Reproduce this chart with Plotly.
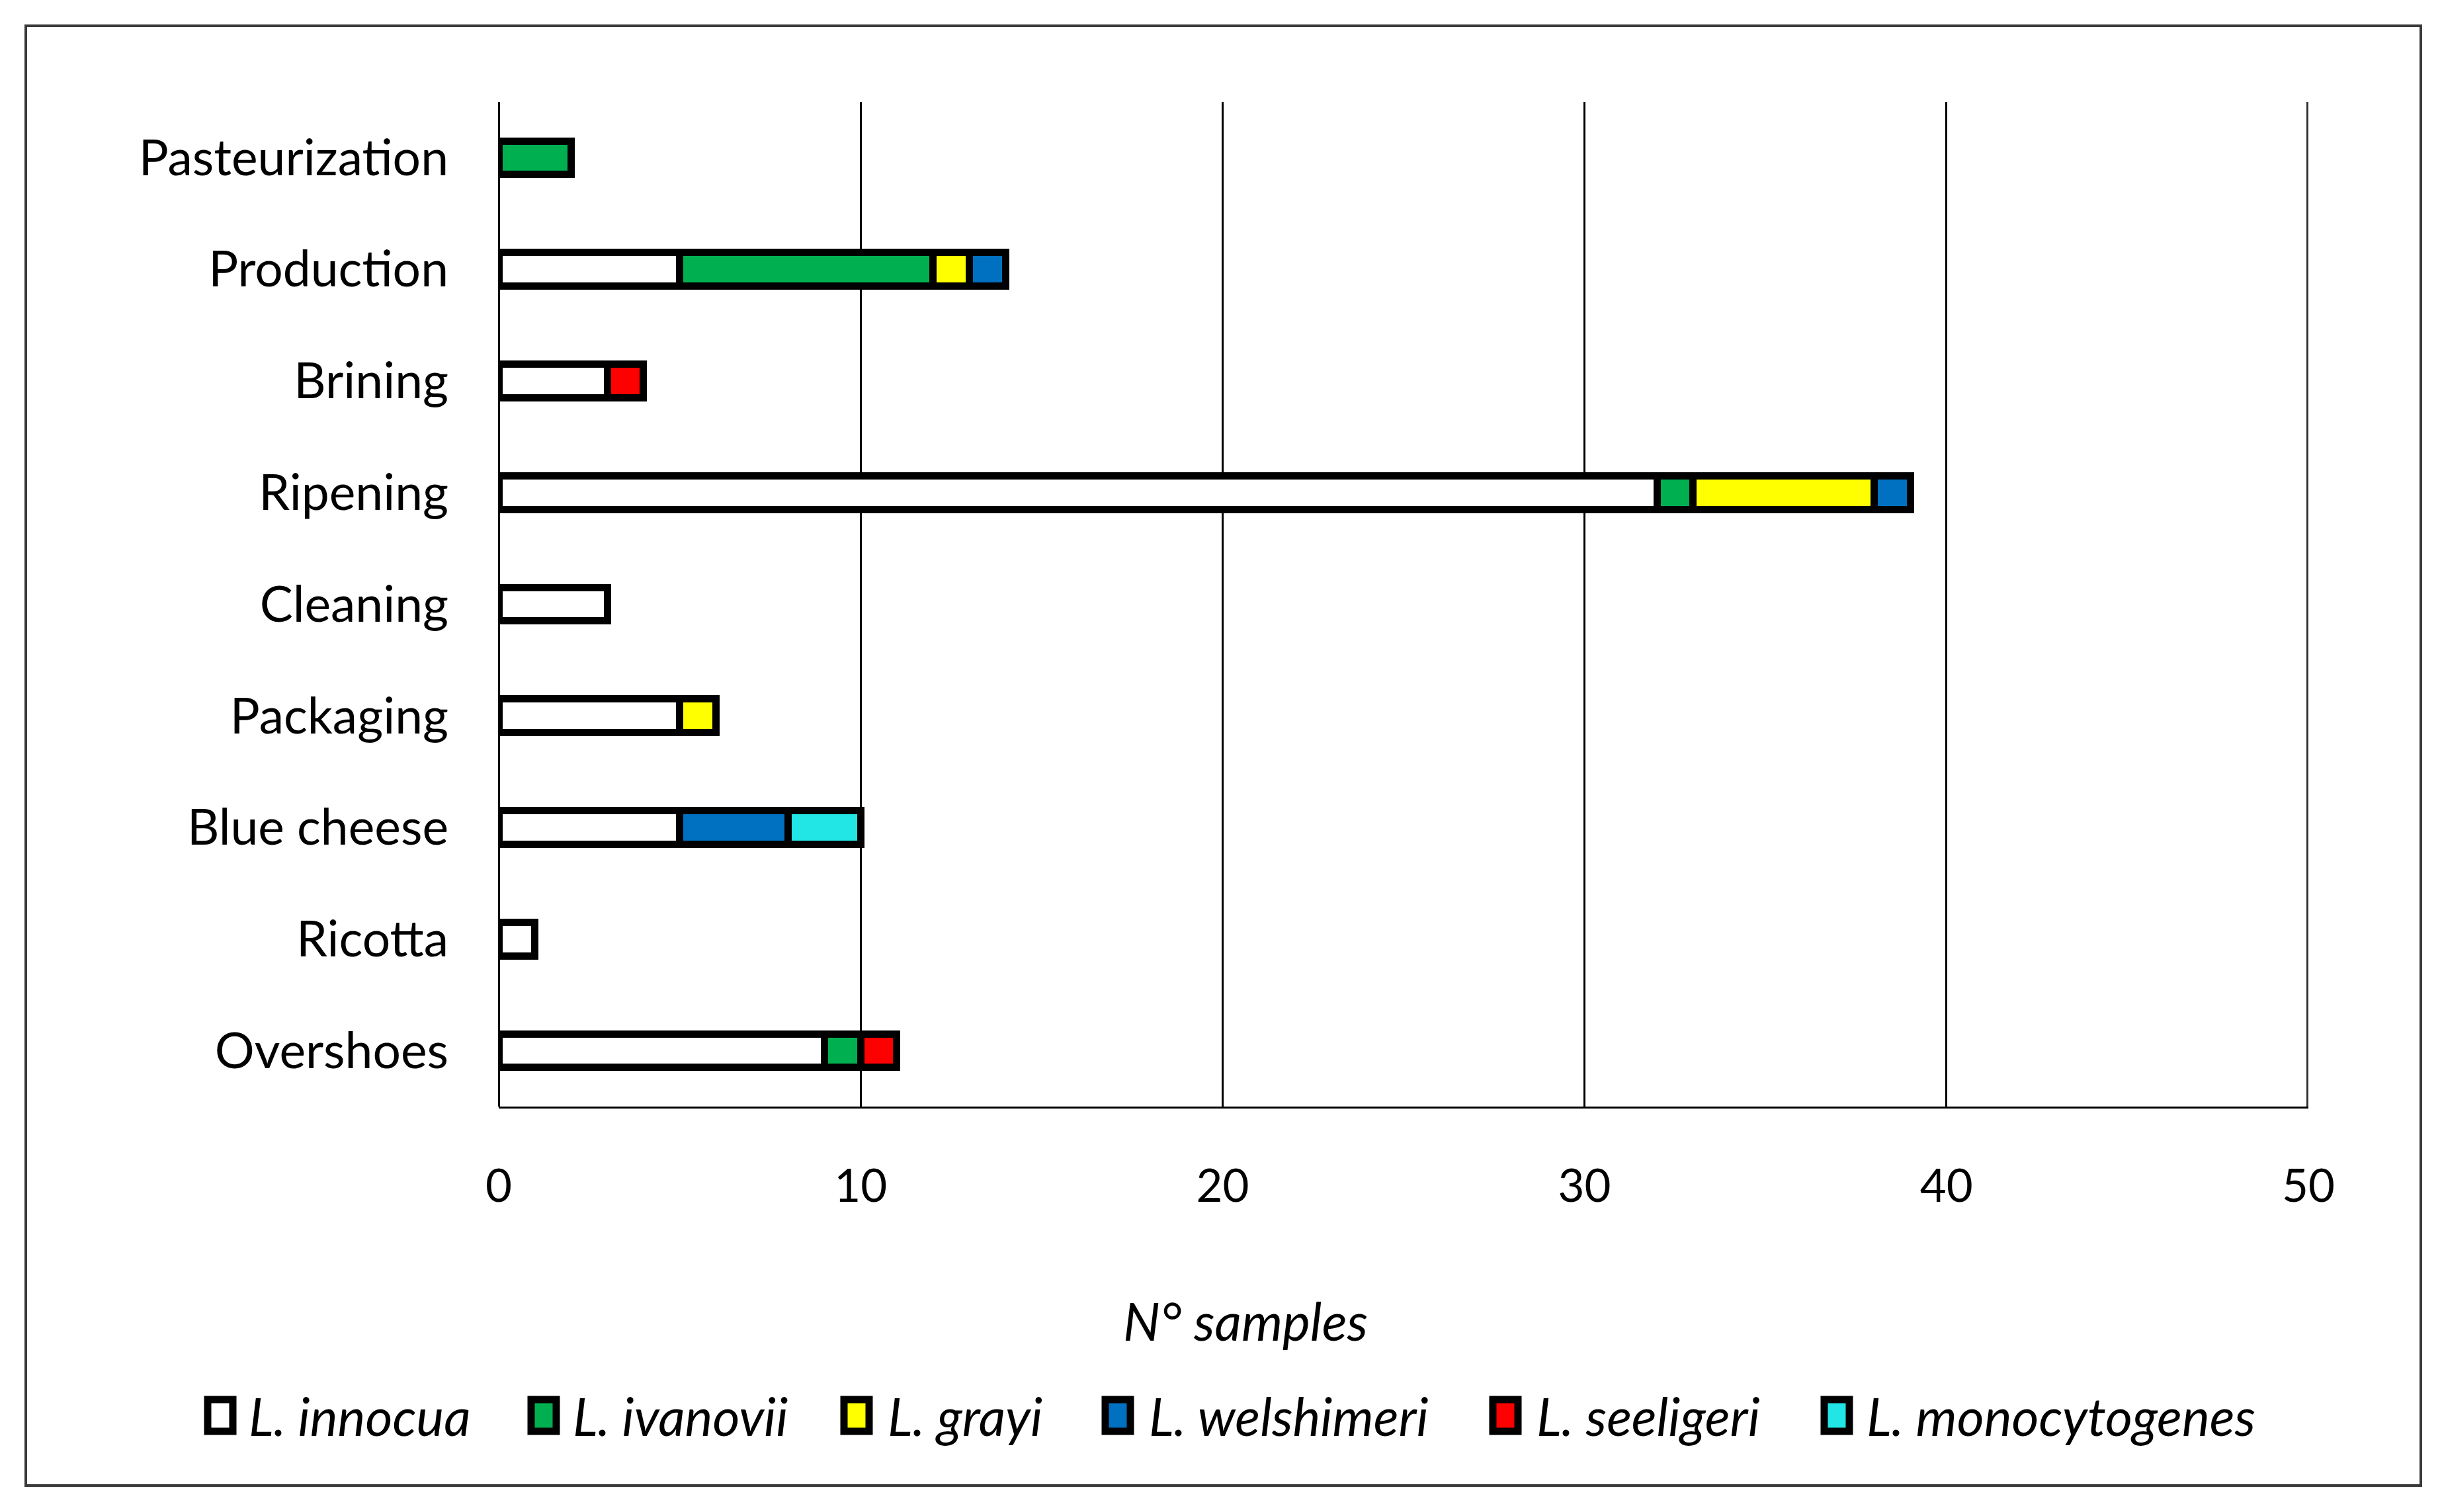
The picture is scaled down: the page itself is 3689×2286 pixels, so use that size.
import plotly.graph_objects as go

CATEGORIES = ["Pasteurization", "Production", "Brining", "Ripening", "Cleaning",
              "Packaging", "Blue cheese", "Ricotta", "Overshoes"]
SERIES = ["L. innocua", "L. ivanovii", "L. grayi", "L. welshimeri", "L. seeligeri", "L. monocytogenes"]
COLORS = ["#FFFFFF", "#00B050", "#FFFF00", "#0070C0", "#FF0000", "#22E6E6"]
INNOCUA = [0, 5, 3, 32, 3, 5, 5, 1, 9]
IVANOVII = [2, 7, 0, 1, 0, 0, 0, 0, 1]
GRAYI = [0, 1, 0, 5, 0, 1, 0, 0, 0]
WELSHIMERI = [0, 1, 0, 1, 0, 0, 3, 0, 0]
SEELIGERI = [0, 0, 1, 0, 0, 0, 0, 0, 1]
MONOCYTOGENES = [0, 0, 0, 0, 0, 0, 2, 0, 0]
VALUES = [INNOCUA, IVANOVII, GRAYI, WELSHIMERI, SEELIGERI, MONOCYTOGENES]
X_TICKS = [0, 10, 20, 30, 40, 50]
X_TITLE = "N° samples"

W, H = 3689, 2286
L, R, T, B = 746, 3482, 146, 1665
FONT = "Lato, 'Open Sans', sans-serif"


def px(x):
    return (x - L) / (R - L)


def py(y):
    return 1 - (y - T) / (B - T)


fig = go.Figure()
for name, vals, col in zip(SERIES, VALUES, COLORS):
    ys = [c for c, v in zip(CATEGORIES, vals) if v > 0]
    xs = [v for v in vals if v > 0]
    fig.add_trace(go.Bar(
        y=ys, x=xs, name=name, orientation="h", width=0.30,
        marker=dict(color=col, line=dict(color="black", width=11)),
        showlegend=False,
    ))

shapes = []
annotations = []
# outer frame
shapes.append(dict(type="rect", xref="paper", yref="paper",
                   x0=px(31), x1=px(3652), y0=py(31), y1=py(2238),
                   line=dict(color="#3a3a3a", width=4), fillcolor="rgba(0,0,0,0)", layer="below"))
# right edge line at max tick
shapes.append(dict(type="line", xref="x", yref="paper", x0=X_TICKS[-1], x1=X_TICKS[-1],
                   y0=0, y1=1, line=dict(color="#333333", width=6), layer="below"))

# custom legend
box_centers = [325, 814, 1287, 1682, 2268, 2769]
text_starts = [366, 856, 1332, 1727, 2313, 2812]
ly = 2132
for name, col, bc, ts in zip(SERIES, COLORS, box_centers, text_starts):
    shapes.append(dict(type="rect", xref="paper", yref="paper",
                       x0=px(bc - 19), x1=px(bc + 19), y0=py(ly - 24), y1=py(ly + 24),
                       line=dict(color="black", width=11), fillcolor=col))
    annotations.append(dict(xref="paper", yref="paper", x=px(ts), y=py(ly),
                            xanchor="left", yanchor="middle", showarrow=False,
                            text="<i>" + name + "</i>",
                            font=dict(family=FONT, size=79, color="black")))

# axis title
annotations.append(dict(xref="paper", yref="paper", x=px(1875), y=py(1988),
                        xanchor="center", yanchor="middle", showarrow=False,
                        text="<i>" + X_TITLE + "</i>",
                        font=dict(family=FONT, size=79, color="black")))

fig.update_layout(
    width=W, height=H,
    margin=dict(l=L, r=W - R, t=T, b=H - B, pad=0),
    barmode="stack",
    paper_bgcolor="white", plot_bgcolor="white",
    font=dict(family=FONT, size=68, color="black"),
    shapes=shapes, annotations=annotations,
    bargap=0.7,
)
fig.update_xaxes(
    range=[X_TICKS[0], X_TICKS[-1]], tickvals=X_TICKS, ticks="",
    showgrid=True, gridcolor="black", gridwidth=3,
    zeroline=True, zerolinecolor="black", zerolinewidth=3,
    showline=True, linecolor="black", linewidth=3,
    tickfont=dict(family=FONT, size=69, color="black"),
    ticklabelstandoff=58,
)
fig.update_yaxes(
    categoryorder="array", categoryarray=CATEGORIES, autorange="reversed",
    ticks="", showgrid=False, showline=False, zeroline=False,
    tickfont=dict(family=FONT, size=75, color="black"),
    ticklabelstandoff=75,
)

fig.write_html("out.html")
